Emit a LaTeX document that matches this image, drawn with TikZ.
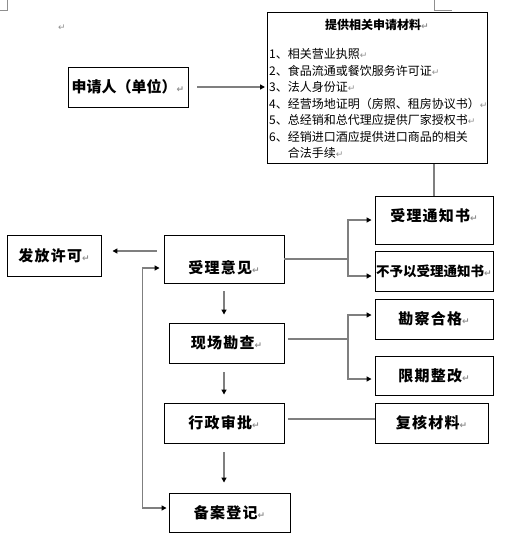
\documentclass[tikz,border=0pt]{standalone}
\usepackage{fontspec}
\setmainfont{Noto Sans CJK SC}
\newfontfamily\markfont{DejaVu Sans}
\usepackage{xcolor}
\usepackage{tikz}
\usetikzlibrary{arrows.meta}
\definecolor{linegray}{HTML}{7F7F7F}
\definecolor{markgray}{HTML}{8F8F8F}
\newcommand\retmark{{\markfont\fontsize{9}{9}\selectfont\addfontfeatures{LetterSpace=0}\color{markgray}↵}}
\newcommand\shifttext[2]{\raisebox{#1}[\height][\depth]{#2}}
\tikzset{
  box/.style={draw=black,line width=0.9pt,inner sep=0pt,align=center,font=\fontsize{15}{18}\selectfont\bfseries\addfontfeatures{LetterSpace=8}},
  ln/.style={linegray,line width=1.5pt},
  ar/.style={ln,-{Triangle[length=5pt,width=5pt,color=black]}},
  biar/.style={ln,{Triangle[length=5pt,width=5pt,color=black]}-{Triangle[length=5pt,width=5pt,color=black]}},
  crop/.style={markgray,line width=0.8pt}
}

\begin{document}
\begin{tikzpicture}[x=1pt,y=-1pt]
\useasboundingbox (0,0) rectangle (504,546);
\draw[crop] (0,10)--(7,10)--(7,0);
\draw[crop] (434,0)--(434,10)--(452,10);
\node (topmark) at (62,28) {\retmark};
% applicant and materials
\node[box,minimum width=120pt,minimum height=40pt,font=\fontsize{15}{18}\selectfont\bfseries] (appl) at (128,87) {申请人（单位）\retmark};
\node[box,minimum width=220pt,minimum height=151pt,anchor=north west] (mat) at (267,12) {};
\node[font=\fontsize{12}{14}\selectfont\bfseries,inner sep=0pt] (mattitle) at (377,25) {提供相关申请材料\retmark};
\node[font=\fontsize{12}{16.5}\selectfont,align=left,inner sep=0pt,anchor=north west] (matlist) at (269,48.5) {%
1、相关营业执照\retmark\\
2、食品流通或餐饮服务许可证\retmark\\
3、法人身份证\retmark\\
4、经营场地证明（房照、租房协议书）\retmark\\
5、总经销和总代理应提供厂家授权书\retmark\\
6、经销进口酒应提供进口商品的相关\\
\phantom{6、}合法手续\retmark};
% middle column
\node[box,minimum width=120pt,minimum height=48pt] (slyj) at (224,259) {\shifttext{-9pt}{受理意见\retmark}};
\node[box,minimum width=94pt,minimum height=41pt] (ffxk) at (54,255.5) {发放许可\retmark};
\node[box,minimum width=115pt,minimum height=40pt] (xckc) at (226.5,343) {现场勘查\retmark};
\node[box,minimum width=120pt,minimum height=40pt] (xzsp) at (224,423) {行政审批\retmark};
\node[box,minimum width=121pt,minimum height=39pt] (bady) at (229.5,512.5) {备案登记\retmark};
% right column
\node[box,minimum width=118pt,minimum height=48pt] (sltz) at (434,220) {\shifttext{4.5pt}{受理通知书\retmark}};
\node[box,minimum width=118pt,minimum height=40pt,font=\fontsize{13.5}{16}\selectfont\bfseries] (bys) at (434,271) {不予以受理通知书\retmark};
\node[box,minimum width=118pt,minimum height=40pt] (kchg) at (434,319) {勘察合格\retmark};
\node[box,minimum width=118pt,minimum height=39pt] (xqzg) at (434,375.5) {限期整改\retmark};
\node[box,minimum width=113pt,minimum height=40pt] (fhcl) at (431.5,423) {复核材料\retmark};
% connectors
\coordinate (s1) at ([yshift=8pt]slyj.west);
\coordinate (s2) at ([yshift=4pt]xzsp.east);
\coordinate (j1) at (348,259);
\coordinate (j2) at (348,339);
\draw[ar,shorten <=9pt,shorten >=2pt] (appl.east) -- (mat.west |- appl.east);
\draw[ln] (sltz.north |- mat.south) -- (sltz.north);
\draw[ar,shorten <=7pt,shorten >=11pt] (s1) -- (ffxk.east |- s1);
\draw[biar,shorten <=4pt,shorten >=2pt] ([yshift=-9pt]slyj.west) -- ++(-21,0) |- ([yshift=4.5pt]bady.west);
\draw[ln] (slyj.east) -- (j1);
\draw[ar,shorten >=3pt] (j1) |- (sltz.west);
\draw[ar,shorten >=3pt] (j1) |- ([yshift=-5pt]bys.west);
\draw[ar,shorten <=8pt,shorten >=8pt] (slyj.south) -- (slyj.south |- xckc.north);
\draw[ln,shorten <=4pt] ([yshift=4pt]xckc.east) -- (j2);
\draw[ar,shorten >=3pt] (j2) |- ([yshift=4pt]kchg.west);
\draw[ar,shorten >=3pt] (j2) |- ([yshift=-3.5pt]xqzg.west);
\draw[ar,shorten <=9pt,shorten >=8pt] (xzsp.north |- xckc.south) -- (xzsp.north);
\draw[ln,shorten <=4pt] (s2) -- (fhcl.west |- s2);
\draw[ar,shorten <=9pt,shorten >=10pt] (xzsp.south) -- (xzsp.south |- bady.north);
\end{tikzpicture}
\end{document}
